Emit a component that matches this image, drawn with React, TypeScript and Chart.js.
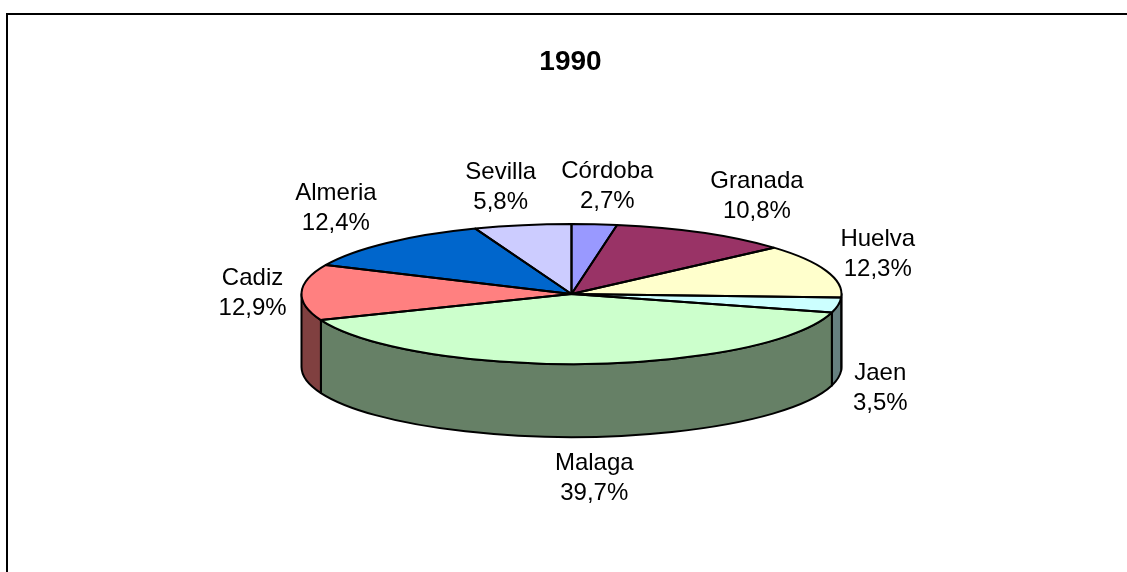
import React, { useEffect, useRef } from 'react';
import { Chart, registerables } from 'chart.js';

Chart.register(...registerables);

const TITLE = '1990';
const provinces = ['Córdoba', 'Granada', 'Huelva', 'Jaen', 'Malaga', 'Cadiz', 'Almeria', 'Sevilla'];
const shares = [2.7, 10.8, 12.3, 3.5, 39.7, 12.9, 12.4, 5.8];
const sliceColors = ['#9999FF', '#993366', '#FFFFCC', '#CCFFFF', '#CCFFCC', '#FF8080', '#0066CC', '#CCCCFF'];

const TILT = 70 / 270;
const DEPTH = 73;
const FONT = '"Liberation Sans", Arial, Helvetica, sans-serif';

function darken(hex: string): string {
  const n = parseInt(hex.slice(1), 16);
  const r = Math.round(((n >> 16) & 255) / 2);
  const g = Math.round(((n >> 8) & 255) / 2);
  const b = Math.round((n & 255) / 2);
  return `rgb(${r},${g},${b})`;
}

function clamp(v: number): number {
  return Math.max(-1, Math.min(1, v));
}

function fmt(v: number): string {
  return v.toFixed(1).replace('.', ',') + '%';
}

const pie3d = {
  id: 'pie3d',
  _saved: false,
  beforeDatasetsDraw(chart: any) {
    const meta = chart.getDatasetMeta(0);
    const arcs = meta.data;
    (pie3d as any)._saved = false;
    if (!arcs.length) return;
    const p = arcs[0].getProps(['x', 'y', 'outerRadius'], true);
    const cx = p.x, cy = p.y, rx = p.outerRadius;
    const ry = rx * TILT;
    const ctx = chart.ctx;
    ctx.save();
    ctx.lineWidth = 2;
    ctx.strokeStyle = '#000';
    ctx.lineJoin = 'round';
    arcs.forEach((arc: any, i: number) => {
      const a = arc.getProps(['startAngle', 'endAngle'], true);
      const a1 = Math.max(a.startAngle, 0);
      const a2 = Math.min(a.endAngle, Math.PI);
      if (a2 <= a1) return;
      ctx.beginPath();
      ctx.ellipse(cx, cy, rx, ry, 0, a1, a2, false);
      ctx.lineTo(cx + rx * Math.cos(a2), cy + ry * Math.sin(a2) + DEPTH);
      ctx.ellipse(cx, cy + DEPTH, rx, ry, 0, a2, a1, true);
      ctx.closePath();
      ctx.fillStyle = darken(sliceColors[i]);
      ctx.fill();
      ctx.stroke();
    });
    ctx.restore();
    ctx.save();
    ctx.translate(cx, cy);
    ctx.scale(1, TILT);
    ctx.translate(-cx, -cy);
    (pie3d as any)._saved = true;
  },
  afterDatasetsDraw(chart: any) {
    const ctx = chart.ctx;
    if ((pie3d as any)._saved) ctx.restore();
    const meta = chart.getDatasetMeta(0);
    const arcs = meta.data;
    if (!arcs.length) return;
    const p = arcs[0].getProps(['x', 'y', 'outerRadius'], true);
    const cx = p.x, cy = p.y, rx = p.outerRadius;
    const ry = rx * TILT;

    // outlines of the top face
    ctx.save();
    ctx.lineWidth = 2;
    ctx.strokeStyle = '#000';
    ctx.lineJoin = 'round';
    arcs.forEach((arc: any) => {
      const a = arc.getProps(['startAngle', 'endAngle'], true);
      ctx.beginPath();
      ctx.moveTo(cx, cy);
      ctx.lineTo(cx + rx * Math.cos(a.startAngle), cy + ry * Math.sin(a.startAngle));
      ctx.ellipse(cx, cy, rx, ry, 0, a.startAngle, a.endAngle, false);
      ctx.closePath();
      ctx.stroke();
    });

    // labels
    ctx.fillStyle = '#000';
    ctx.font = `24px ${FONT}`;
    ctx.textAlign = 'center';
    ctx.textBaseline = 'alphabetic';
    const labels = chart.data.labels as string[];
    const values = chart.data.datasets[0].data as number[];
    arcs.forEach((arc: any, i: number) => {
      const a = arc.getProps(['startAngle', 'endAngle'], true);
      const m = (a.startAngle + a.endAngle) / 2;
      const c = Math.cos(m), s = Math.sin(m);
      const l1 = labels[i];
      const l2 = fmt(values[i]);
      const w = Math.max(ctx.measureText(l1).width, ctx.measureText(l2).width);
      const ax = cx + (rx + 15) * c;
      const ay = cy + (ry + 12) * s + (s > 0 ? DEPTH : 0);
      const lx = ax + (w / 2) * clamp(3 * c);
      const ly = ay + 28 * clamp(1.5 * s);
      ctx.fillText(l1, lx, ly - 6.5);
      ctx.fillText(l2, lx, ly + 23.5);
    });

    // title
    ctx.font = `bold 28px ${FONT}`;
    ctx.fillText(TITLE, cx - 1, 70);
    ctx.restore();
  },
};

export default function App() {
  const ref = useRef<HTMLCanvasElement>(null);
  useEffect(() => {
    if (!ref.current) return;
    const chart = new Chart(ref.current, {
      type: 'pie',
      data: {
        labels: provinces,
        datasets: [
          {
            data: shares,
            backgroundColor: sliceColors,
            borderWidth: 0,
            clip: false as any,
          } as any,
        ],
      },
      options: {
        responsive: false,
        animation: false,
        events: [],
        layout: { padding: { left: 301.5, right: 285.5, top: 24, bottom: 8 } },
        plugins: {
          legend: { display: false },
          tooltip: { enabled: false },
          title: { display: false },
        },
      } as any,
      plugins: [pie3d as any],
    });
    return () => chart.destroy();
  }, []);
  return (
    <div style={{ position: 'fixed', left: 0, top: 0, width: 1127, height: 572, overflow: 'hidden', background: '#fff' }}>
      <div
        style={{
          position: 'absolute',
          left: 6,
          top: 13,
          width: 1200,
          height: 700,
          borderTop: '2px solid #000',
          borderLeft: '2px solid #000',
        }}
      />
      <canvas
        ref={ref}
        width={1127}
        height={572}
        style={{ position: 'absolute', left: 0, top: 0, width: 1127, height: 572 }}
      />
    </div>
  );
}
